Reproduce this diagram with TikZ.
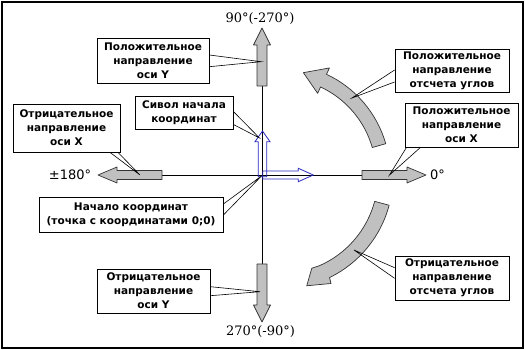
\documentclass[tikz,border=0pt]{standalone}
\usepackage{fontspec}
\setmainfont{DejaVu Sans}
\newfontfamily\degserif{DejaVu Serif}
\usetikzlibrary{calc}
\definecolor{garrowfill}{RGB}{192,192,192}
\definecolor{ucsblue}{RGB}{40,40,190}
\begin{document}
\begin{tikzpicture}[x=1pt,y=1pt,
  box/.style={draw=black, line width=0.8pt, fill=white, align=center,
    font=\fontsize{10.5}{14}\selectfont\bfseries, inner sep=0pt},
  lead/.style={draw=black, line width=0.6pt},
  garrow/.style={fill=garrowfill, draw=black!80, line width=0.7pt, line join=round},
  ucs/.style={draw=ucsblue, line width=0.8pt},
  axis/.style={draw=black, line width=0.8pt},
  deglbl/.style={font=\degserif\fontsize{13}{14}\selectfont, inner sep=0pt},
  sanslbl/.style={font=\fontsize{13}{14}\selectfont, inner sep=0pt}]
\useasboundingbox (0,0) rectangle (525,350);
\draw[line width=1.2pt] (2,2) rectangle (523,348);

% axes
\coordinate (O) at (262,175);
\draw[axis] (262,86) -- (262,264);
\draw[axis] (162,175) -- (362,175);

% straight gray arrows
\draw[garrow] (257,264) -- (257,305) -- (253.5,305) -- (262,322) -- (270.5,305) -- (267,305) -- (267,264) -- cycle;
\draw[garrow] (257,86) -- (257,45) -- (253.5,45) -- (262,28) -- (270.5,45) -- (267,45) -- (267,86) -- cycle;
\draw[garrow] (162,179.5) -- (117,179.5) -- (117,183) -- (98,175) -- (117,167) -- (117,170.5) -- (162,170.5) -- cycle;
\draw[garrow] (362,179.5) -- (407,179.5) -- (407,183) -- (426,175) -- (407,167) -- (407,170.5) -- (362,170.5) -- cycle;

% curved arrows
\coordinate (c1) at (280,176);
\draw[garrow] ($(c1)+(16:110)$) arc[start angle=16,end angle=65,radius=110]
  -- ($(c1)+(65:117)$) -- ($(c1)+(77:104)$) -- ($(c1)+(65:89)$) -- ($(c1)+(65:96)$)
  arc[start angle=65,end angle=16,radius=96] -- cycle;
\coordinate (c2) at (280,174);
\draw[garrow] ($(c2)+(-15:113)$) arc[start angle=-15,end angle=-64,radius=113]
  -- ($(c2)+(-64.6:119)$) -- ($(c2)+(-76.3:113)$) -- ($(c2)+(-71:97.6)$) -- ($(c2)+(-66:98)$)
  arc[start angle=-66,end angle=-15,radius=98] -- cycle;

% UCS symbol
\draw[ucs] (258.3,173.3) -- (258.3,208.3) -- (255,208.3) -- (262.5,219) -- (270,208.3) -- (266.7,208.3) -- (266.7,173.3) -- cycle;
\draw[ucs] (262.7,179) -- (298.3,179) -- (298.3,181.7) -- (313.3,175) -- (298.3,168.3) -- (298.3,171) -- (262.7,171) -- cycle;

% angle labels
\node[deglbl] (l90) at (260,331) {90°(-270°)};
\node[deglbl] (l270) at (260.5,18) {270°(-90°)};
\node[sanslbl] (l180) at (70,175) {±180°};
\node[sanslbl, anchor=west] (l0) at (430,175) {0°};

% callout boxes
\node[box, minimum width=112pt, minimum height=45pt] (py) at (153,289.5) {Положительное\\направление\\оси Y};
\node[box, minimum width=98pt, minimum height=33pt] (sym) at (184,237.5) {Сивол начала\\координат};
\node[box, minimum width=107pt, minimum height=48pt] (nx) at (66.5,222) {Отрицательное\\направление\\оси X};
\node[box, minimum width=184pt, minimum height=35pt] (org) at (131,135.5) {Начало координат\\(точка с координатами 0;0)};
\node[box, minimum width=113pt, minimum height=44pt] (ny) at (153.5,59) {Отрицательное\\направление\\оси Y};
\node[box, minimum width=114pt, minimum height=43pt] (pa) at (452,279.5) {Положительное\\направление\\отсчета углов};
\node[box, minimum width=113pt, minimum height=44pt] (px) at (461.5,225) {Положительное\\направление\\оси X};
\node[box, minimum width=114pt, minimum height=44pt] (na) at (452,72) {Отрицательное\\направление\\отсчета углов};

% leader targets
\coordinate (tpy) at (261,288.3);
\coordinate (tsym) at (259.5,212);
\coordinate (tnx) at (140,175);
\coordinate (torg) at (261.5,174);
\coordinate (tny) at (260,58.3);
\coordinate (tpa) at (352,252);
\coordinate (tpx) at (389.5,175);
\coordinate (tna) at (354,100);

% leaders
\draw[lead] ([yshift=5.5pt]py.east) -- (tpy) -- ([yshift=-6.2pt]py.east);
\draw[lead] ([yshift=1pt]sym.east) -- (tsym) -- ([yshift=-12pt]sym.east);
\draw[lead] ([xshift=43.5pt]nx.south) -- (tnx) -- ([xshift=51.5pt]nx.south);
\draw[lead] ([yshift=10.5pt]org.east) -- (torg) -- ([yshift=-0.5pt]org.east);
\draw[lead] ([yshift=4.3pt]ny.east) -- (tny) -- ([yshift=-4.7pt]ny.east);
\draw[lead] ([yshift=0.5pt]pa.west) -- (tpa) -- ([yshift=-11.5pt]pa.west);
\draw[lead] ([xshift=-55pt]px.south) -- (tpx) -- ([xshift=-41pt]px.south);
\draw[lead] ([yshift=10.3pt]na.west) -- (tna) -- ([yshift=-0.3pt]na.west);
\end{tikzpicture}
\end{document}
